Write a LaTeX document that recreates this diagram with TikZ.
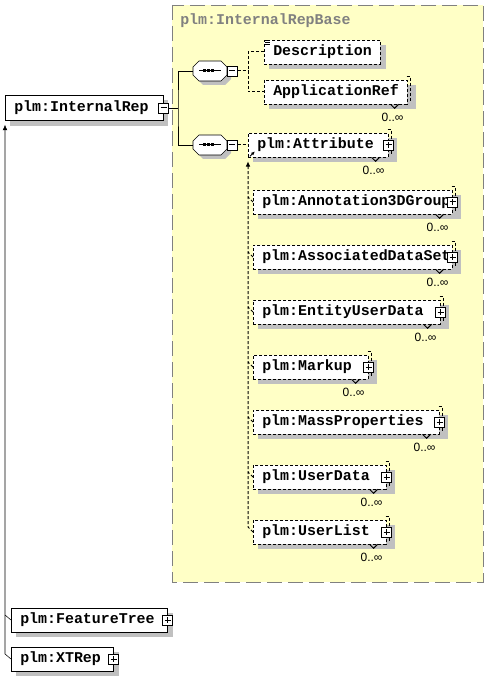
\documentclass[tikz,border=0pt]{standalone}
\usepackage{fontspec}
\setmainfont{Liberation Sans}
\setmonofont{Liberation Mono}
\usetikzlibrary{arrows.meta}
\definecolor{baseyellow}{HTML}{FFFFC6}
\definecolor{shadowgray}{HTML}{C0C0C0}
\definecolor{titlegray}{HTML}{808080}
\pgfdeclarelayer{back}\pgfdeclarelayer{bg}\pgfsetlayers{back,bg,main}
\newcommand{\mkshadow}[2]{\fill[shadowgray] ([shift={(5,5)}]#1.north west) rectangle ([shift={(#2,5)}]#1.south east);}
\newcommand{\mkstack}[1]{\draw[dashline] ([shift={(-1,-3)}]#1.north east) -- ([shift={(3,-3)}]#1.north east) -- ([shift={(3,-3)}]#1.south east);}
\newcommand{\mkmult}[1]{\draw[thinline] ([shift={(-17,0)}]#1.south east) -- ++(4,4) -- ++(4,-4);
  \node[multtext] (#1-mult) at ([shift={(-15,13)}]#1.south east) {0..∞};}
\newcommand{\mkplus}[1]{\node[pmbox] (#1-pm) at (#1.east) {};
  \draw[thinline] ([shift={(-3,0)}]#1-pm.center) -- ([shift={(3,0)}]#1-pm.center)
                  ([shift={(0,-3)}]#1-pm.center) -- ([shift={(0,3)}]#1-pm.center);}
\newcommand{\octpath}[2]{([shift={(#2)}]#1.center) ++(-11,-10) -- ++(22,0) -- ++(6,6) -- ++(0,8) -- ++(-6,6) -- ++(-22,0) -- ++(-6,-6) -- ++(0,-8) -- cycle}
\newcommand{\mkseq}[2]{\node[seqnode] (#1) at #2 {};
  \begin{pgfonlayer}{bg}
    \fill[shadowgray] \octpath{#1}{4,4};
  \end{pgfonlayer}
  \draw[fill=white] \octpath{#1}{0,0};
  \node[pmbox] (#1-pm) at ([shift={(5,0)}]#1.east) {};
  \draw[thinline] ([shift={(-3,0)}]#1-pm.center) -- ([shift={(3,0)}]#1-pm.center);
  \draw[thinline] ([shift={(-11,0)}]#1.center) -- ([shift={(11,0)}]#1.center);
  \foreach \d in {-6,-2,2} \fill ([shift={(\d,0)}]#1.center) +(-1.5,-1.5) rectangle +(1.5,1.5);}
\begin{document}
\begin{tikzpicture}[x=0.75pt,y=-0.75pt,
  line width=0.75pt,
  thinline/.style={line width=0.75pt},
  dashline/.style={line width=0.75pt, dash pattern=on 2.25pt off 1.5pt},
  elbox/.style={draw, fill=white, anchor=west, minimum height=18pt, inner xsep=6.75pt, inner ysep=0pt, align=left, font=\ttfamily\bfseries\fontsize{11.2}{13}\selectfont},
  optbox/.style={elbox, dash pattern=on 2.25pt off 1.5pt},
  pmbox/.style={draw, solid, fill=white, minimum size=7.5pt, inner sep=0pt},
  multtext/.style={font=\fontsize{9}{10}\selectfont, inner sep=0pt},
  seqnode/.style={draw=none, minimum width=25.5pt, minimum height=15pt, inner sep=0pt},
  basebox/.style={fill=baseyellow, draw=titlegray, dash pattern=on 11.25pt off 4.5pt},
  subarrow/.style={-{Latex[length=4pt,width=3.5pt]}},
]
\useasboundingbox (0,0) rectangle (488,677);
\begin{pgfonlayer}{back}
  \draw[basebox] (172,5) rectangle (483,582);
\end{pgfonlayer}
\node[anchor=west, text=titlegray, font=\ttfamily\bfseries\fontsize{11.2}{13}\selectfont, inner sep=0pt] (basetitle) at (180,21) {plm:InternalRepBase};

% element boxes
\node[elbox, minimum height=18.75pt, text width=105pt] (root) at (5,108) {plm:InternalRep};
\node[optbox, text width=73.5pt] (desc) at (264,52) {Description};
\node[optbox, text width=93.75pt] (appref) at (264,92) {ApplicationRef};
\node[optbox, text width=91.5pt] (attr) at (248,145) {plm:Attribute};
\node[optbox, text width=135.75pt] (ann) at (253,202) {plm:Annotation3DGroup};
\node[optbox, text width=135.75pt] (ads) at (253,257) {plm:AssociatedDataSet};
\node[optbox, text width=126.75pt] (eud) at (253,312) {plm:EntityUserData};
\node[optbox, text width=72.75pt] (markup) at (253,367) {plm:Markup};
\node[optbox, text width=126pt] (mass) at (253,422) {plm:MassProperties};
\node[optbox, text width=86.25pt] (udata) at (253,477) {plm:UserData};
\node[optbox, text width=86.25pt] (ulist) at (253,532) {plm:UserList};
\node[elbox, text width=103.5pt] (feat) at (11,620) {plm:FeatureTree};
\node[elbox, text width=63pt] (xtrep) at (11,659) {plm:XTRep};

% shadows and stacks
\begin{pgfonlayer}{bg}
  \mkshadow{root}{4}
  \mkshadow{desc}{5}
  \mkshadow{feat}{5}
  \mkshadow{xtrep}{5}
  \foreach \n in {appref,attr,ann,ads,eud,markup,mass,udata,ulist}{\mkshadow{\n}{8}\mkstack{\n}}
\end{pgfonlayer}

% root minus
\node[pmbox] (root-pm) at (root.east) {};
\draw[thinline] ([shift={(-3,0)}]root-pm.center) -- ([shift={(3,0)}]root-pm.center);

% plus boxes and multiplicities
\foreach \n in {attr,ann,ads,eud,markup,mass,udata,ulist,feat,xtrep}{\mkplus{\n}}
\foreach \n in {appref,attr,ann,ads,eud,markup,mass,udata,ulist}{\mkmult{\n}}

% documentation mark on Description
\draw[line width=0.5pt] ([shift={(1,1)}]desc.north west) -- ++(5,0)
  ([shift={(1,2.6)}]desc.north west) -- ++(5,0)
  ([shift={(1,4.2)}]desc.north west) -- ++(5,0);

% sequences
\mkseq{seq1}{(210,71)}
\mkseq{seq2}{(210,145)}

% connectors
\coordinate (j1) at (178,108);
\coordinate (j2) at (248,71);
\draw (root-pm.east) -- (j1);
\draw (seq1.west) -| (j1) |- (seq2.west);
\draw[dashline] (seq1-pm.east) -- (j2);
\draw[dashline] (desc.west) -| (j2) |- (appref.west);
\draw[dashline] (seq2-pm.east) -- (attr.west);

% substitution group (right)
\draw[dashline, subarrow] (ulist.west) -- ++(-5,-5) -- ([shift={(0,4)}]attr.south west);
\foreach \n in {ann,ads,eud,markup,mass,udata}{\draw[dashline] (\n.west) -- ++(-5,-5);}
\draw[thinline, -{Latex[length=3pt,width=2.5pt]}] ([shift={(2,-1)}]attr.south west) -- ++(5,-5);

% substitution group (left)
\draw[subarrow] (xtrep.west) -- ++(-6,-5) -- ([shift={(0,4)}]root.south west);
\draw (feat.west) -- ++(-6,-5);
\end{tikzpicture}
\end{document}
